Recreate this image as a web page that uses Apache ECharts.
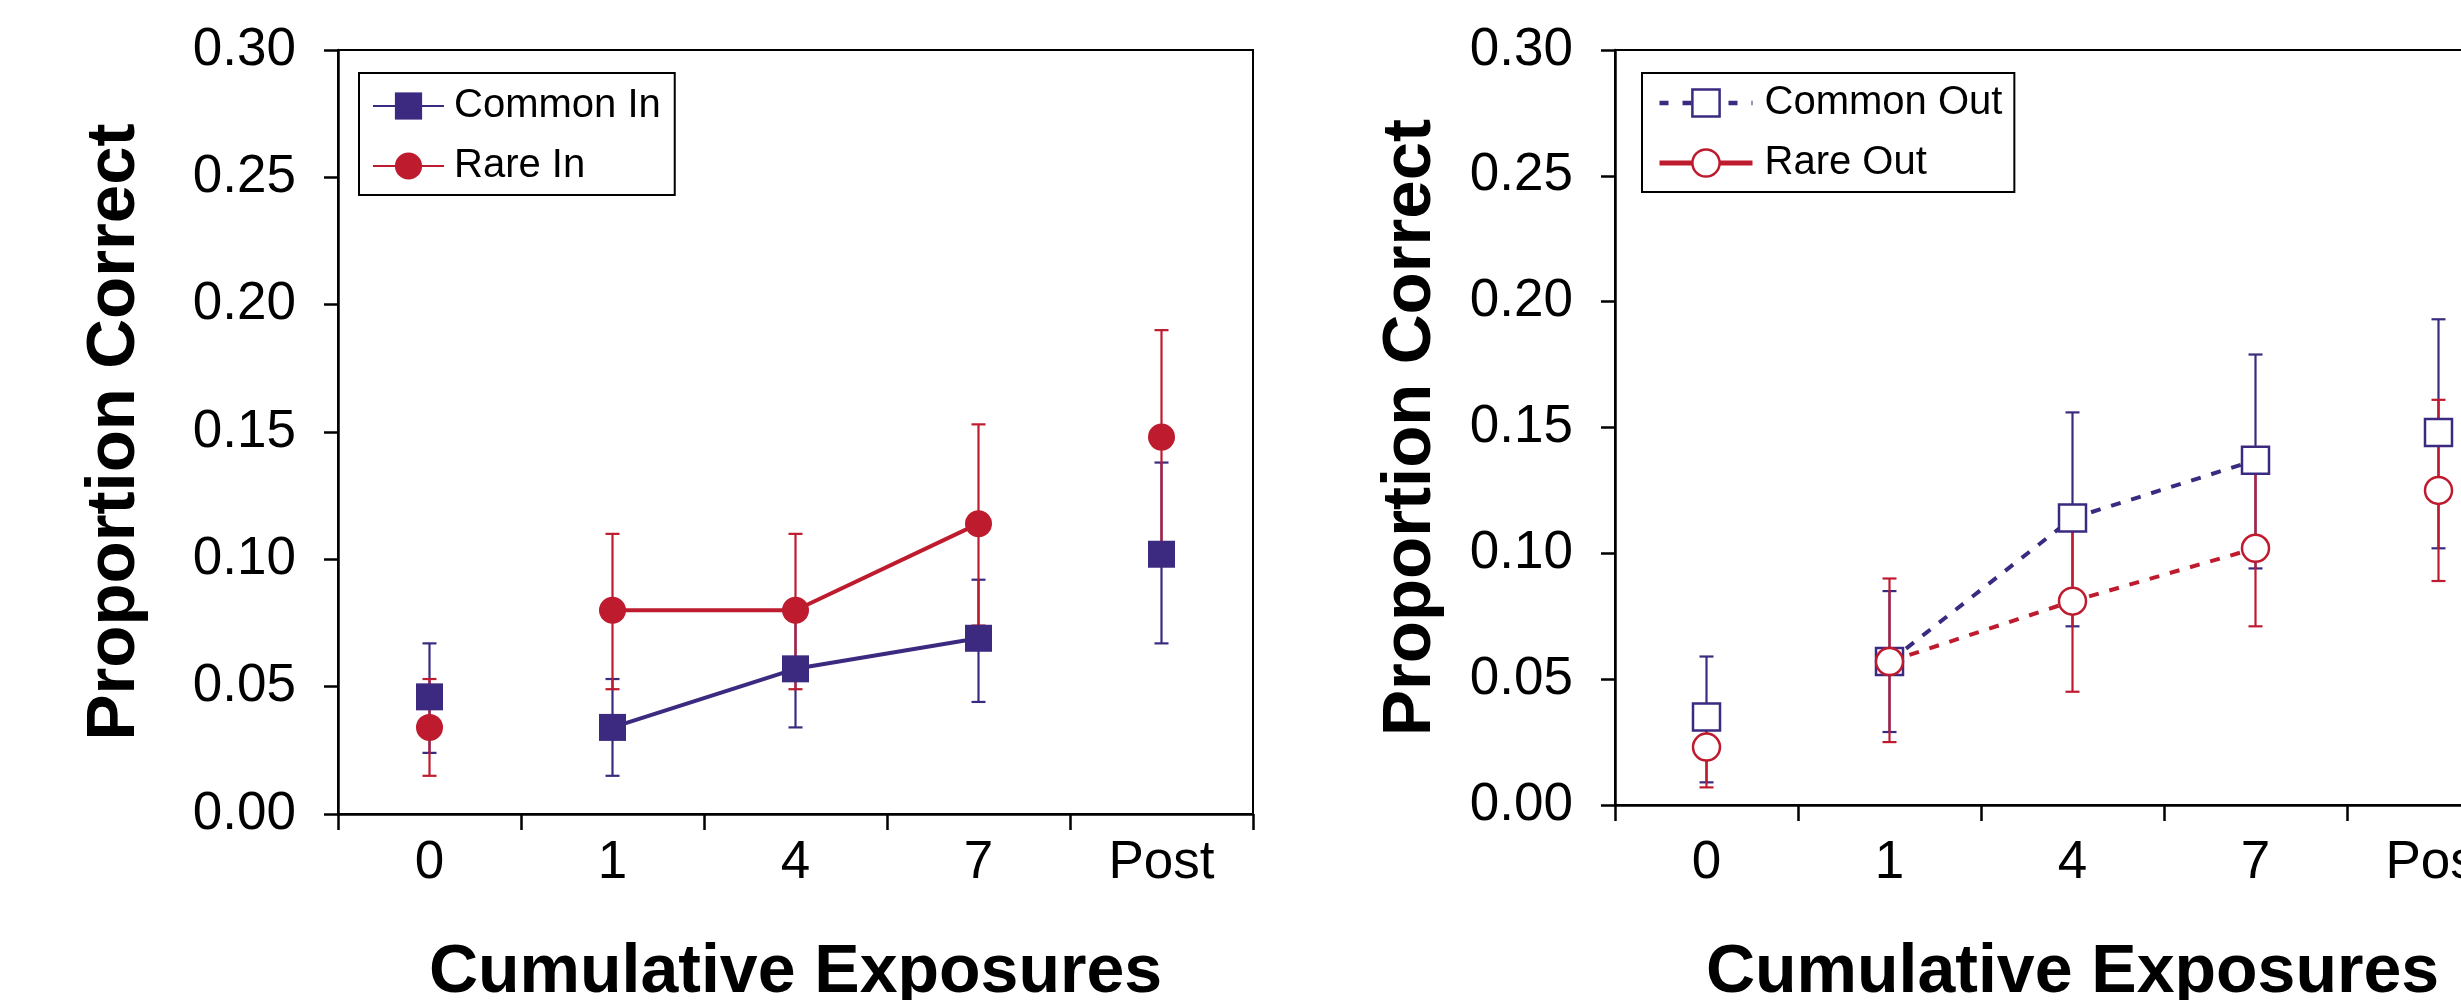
<!DOCTYPE html>
<html>
<head>
<meta charset="utf-8">
<script src="https://cdn.jsdelivr.net/npm/echarts@6/dist/echarts.min.js"></script>
<style>
  body { margin: 0; background: #fff; }
  #main { width: 2461px; height: 1000px; }
</style>
</head>
<body>
<div id="main"></div>
<script>
// categories on the x axis
var categories = ['0', '1', '4', '7', 'Post'];
// which points are joined by a line (0 and Post stand alone)
var joined = [false, true, true, true, false];
var yTicks = [0, 0.05, 0.10, 0.15, 0.20, 0.25, 0.30];

// left panel
var commonIn   = [0.046, 0.034, 0.057, 0.069, 0.102];
var commonInLo = [0.024, 0.015, 0.034, 0.044, 0.067];
var commonInHi = [0.067, 0.053, 0.080, 0.092, 0.138];
var rareIn     = [0.034, 0.080, 0.080, 0.114, 0.148];
var rareInLo   = [0.015, 0.049, 0.049, 0.074, 0.106];
var rareInHi   = [0.053, 0.110, 0.110, 0.153, 0.190];

// right panel
var commonOut   = [0.035, 0.057, 0.114, 0.137, 0.148];
var commonOutLo = [0.009, 0.029, 0.071, 0.094, 0.102];
var commonOutHi = [0.059, 0.085, 0.156, 0.179, 0.193];
var rareOut     = [0.023, 0.057, 0.081, 0.102, 0.125];
var rareOutLo   = [0.007, 0.025, 0.045, 0.071, 0.089];
var rareOutHi   = [0.039, 0.090, 0.117, 0.133, 0.161];

var BLUE = '#3b2a80';
var RED = '#be1b2f';
var FONT = "'Liberation Sans', Arial, sans-serif";

function lineData(arr) {
  return arr.map(function (v, i) { return joined[i] ? v : '-'; });
}
function loneData(arr) {
  return arr.map(function (v, i) { return joined[i] ? '-' : v; });
}
function errData(lo, hi) {
  return lo.map(function (v, i) { return [i, v, hi[i]]; });
}

function errSeries(idx, lo, hi, color) {
  return {
    type: 'custom',
    xAxisIndex: idx, yAxisIndex: idx,
    silent: true,
    z: 1,
    data: errData(lo, hi),
    renderItem: function (params, api) {
      var a = api.coord([api.value(0), api.value(1)]);
      var b = api.coord([api.value(0), api.value(2)]);
      var st = { stroke: color, lineWidth: 2.2 };
      return {
        type: 'group',
        children: [
          { type: 'line', shape: { x1: a[0], y1: a[1], x2: b[0], y2: b[1] }, style: st },
          { type: 'line', shape: { x1: a[0] - 7, y1: a[1], x2: a[0] + 7, y2: a[1] }, style: st },
          { type: 'line', shape: { x1: b[0] - 7, y1: b[1], x2: b[0] + 7, y2: b[1] }, style: st }
        ]
      };
    }
  };
}

function xAxis(idx, labelGap, nameGap) {
  return {
    type: 'category', gridIndex: idx, data: categories,
    axisLine: { lineStyle: { color: '#000', width: 2.5 } },
    axisTick: { show: true, length: 16, interval: 0, lineStyle: { color: '#000', width: 2.5 } },
    axisLabel: { fontSize: 53, color: '#000', fontFamily: FONT, margin: labelGap, interval: 0 },
    splitLine: { show: false },
    name: 'Cumulative Exposures', nameLocation: 'middle', nameGap: nameGap,
    nameTextStyle: { fontSize: 68, fontWeight: 'bold', color: '#000', fontFamily: FONT }
  };
}

function yAxis(idx, gap) {
  return {
    type: 'value', gridIndex: idx, min: 0, max: 0.3, interval: 0.05,
    axisLine: { show: true, onZero: false, lineStyle: { color: '#000', width: 2.5 } },
    axisTick: { show: true, length: 14, lineStyle: { color: '#000', width: 2.5 } },
    axisLabel: {
      fontSize: 53, color: '#000', fontFamily: FONT, margin: 42,
      formatter: function (v) { return v.toFixed(2); }
    },
    splitLine: { show: false },
    name: 'Proportion Correct', nameLocation: 'middle', nameGap: gap,
    nameTextStyle: { fontSize: 69, fontWeight: 'bold', color: '#000', fontFamily: FONT }
  };
}

var myChart = echarts.init(document.getElementById('main'));

var option = {
  animation: false,
  backgroundColor: '#fff',
  grid: [
    { left: 338, top: 50, width: 915, height: 764, outerBoundsMode: 'none', show: true, borderColor: '#000', borderWidth: 2, backgroundColor: 'transparent' },
    { left: 1615, top: 50, width: 915, height: 755, outerBoundsMode: 'none', show: true, borderColor: '#000', borderWidth: 2, backgroundColor: 'transparent' }
  ],
  xAxis: [xAxis(0, 23, 125), xAxis(1, 32, 134)],
  yAxis: [yAxis(0, 189), yAxis(1, 170)],
  legend: [
    {
      orient: 'vertical', left: 359, top: 73,
      borderColor: '#000', borderWidth: 2, borderRadius: 0,
      padding: [13, 14, 9, 13], itemGap: 20,
      itemWidth: 71, itemHeight: 34,
      textStyle: { fontSize: 40, color: '#000', fontFamily: FONT, padding: [0, 0, 0, 5] },
      lineStyle: { width: 2 },
      data: ['Common In', 'Rare In']
    },
    {
      orient: 'vertical', left: 1642, top: 73,
      borderColor: '#000', borderWidth: 2, borderRadius: 0,
      padding: [10, 12, 9, 15], itemGap: 20,
      itemWidth: 93, itemHeight: 34,
      textStyle: { fontSize: 40, color: '#000', fontFamily: FONT, padding: [0, 0, 0, 7] },
      itemStyle: { borderWidth: 2.5 },
      data: [
        { name: 'Common Out', lineStyle: { width: 4.5, type: [9, 14] } },
        { name: 'Rare Out', lineStyle: { width: 5, type: 'solid' } }
      ]
    }
  ],
  series: [
    // left panel
    errSeries(0, commonInLo, commonInHi, BLUE),
    errSeries(0, rareInLo, rareInHi, RED),
    {
      name: 'Common In', type: 'line', xAxisIndex: 0, yAxisIndex: 0, z: 3,
      data: lineData(commonIn),
      symbol: 'rect', symbolSize: 27, showAllSymbol: true,
      itemStyle: { color: BLUE }, lineStyle: { color: BLUE, width: 4 }
    },
    {
      name: 'Common In', type: 'scatter', xAxisIndex: 0, yAxisIndex: 0, z: 3,
      data: loneData(commonIn), symbol: 'rect', symbolSize: 27,
      itemStyle: { color: BLUE, opacity: 1 }
    },
    {
      name: 'Rare In', type: 'line', xAxisIndex: 0, yAxisIndex: 0, z: 4,
      data: lineData(rareIn),
      symbol: 'circle', symbolSize: 27, showAllSymbol: true,
      itemStyle: { color: RED }, lineStyle: { color: RED, width: 4 }
    },
    {
      name: 'Rare In', type: 'scatter', xAxisIndex: 0, yAxisIndex: 0, z: 4,
      data: loneData(rareIn), symbol: 'circle', symbolSize: 27,
      itemStyle: { color: RED, opacity: 1 }
    },
    // right panel
    errSeries(1, commonOutLo, commonOutHi, BLUE),
    errSeries(1, rareOutLo, rareOutHi, RED),
    {
      name: 'Common Out', type: 'line', xAxisIndex: 1, yAxisIndex: 1, z: 3,
      data: lineData(commonOut),
      symbol: 'rect', symbolSize: 27, showAllSymbol: true,
      itemStyle: { color: '#fff', borderColor: BLUE, borderWidth: 2.5 },
      lineStyle: { color: BLUE, width: 4, type: [10, 11] }
    },
    {
      name: 'Common Out', type: 'scatter', xAxisIndex: 1, yAxisIndex: 1, z: 3,
      data: loneData(commonOut), symbol: 'rect', symbolSize: 27,
      itemStyle: { color: '#fff', borderColor: BLUE, borderWidth: 2.5, opacity: 1 }
    },
    {
      name: 'Rare Out', type: 'line', xAxisIndex: 1, yAxisIndex: 1, z: 4,
      data: lineData(rareOut),
      symbol: 'circle', symbolSize: 27, showAllSymbol: true,
      itemStyle: { color: '#fff', borderColor: RED, borderWidth: 2.5 },
      lineStyle: { color: RED, width: 4, type: [10, 11] }
    },
    {
      name: 'Rare Out', type: 'scatter', xAxisIndex: 1, yAxisIndex: 1, z: 4,
      data: loneData(rareOut), symbol: 'circle', symbolSize: 27,
      itemStyle: { color: '#fff', borderColor: RED, borderWidth: 2.5, opacity: 1 }
    }
  ]
};

myChart.setOption(option);
</script>
</body>
</html>
